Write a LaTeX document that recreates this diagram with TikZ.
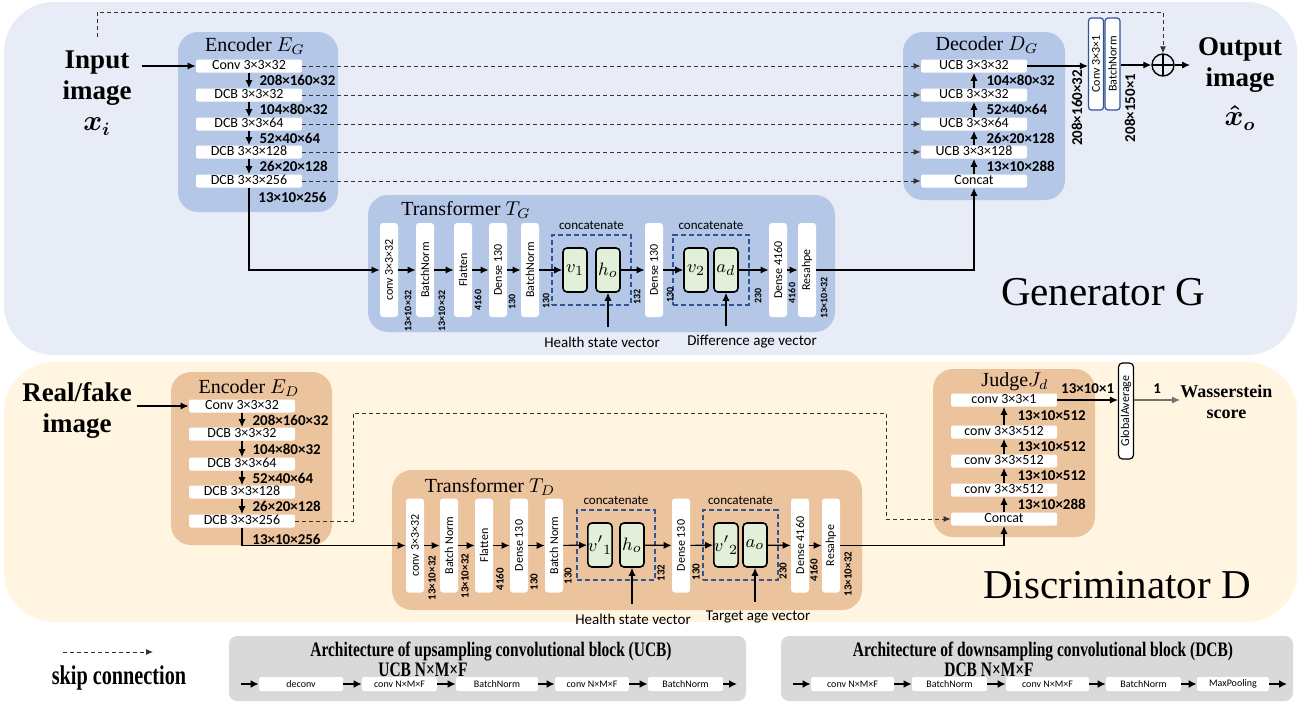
\documentclass[tikz,border=0pt]{standalone}
\usepackage{amsmath}
\usepackage{graphicx}
\usepackage{fontspec}
\setmainfont{Liberation Serif}
\newfontfamily\calfont{Carlito}
\newfontfamily\narrowfont[FakeStretch=0.75]{Liberation Serif}
\usetikzlibrary{arrows.meta,positioning,calc,fit,backgrounds}

\definecolor{genbg}{HTML}{E7ECF6}
\definecolor{disbg}{HTML}{FFF5E0}
\definecolor{genblock}{HTML}{B4C7E7}
\definecolor{disblock}{HTML}{EBC49E}
\definecolor{vecgreen}{HTML}{E2F0D9}
\definecolor{catblue}{HTML}{2F5597}
\definecolor{leggray}{HTML}{D9D9D9}

\newcommand\fsz[2]{\fontsize{#1}{#2}\selectfont}
\newcommand\uprot[1]{\rotatebox{90}{#1}}

\begin{document}
\begin{tikzpicture}[
    x=0.5pt, y=-0.5pt,                               % one unit = one pixel of the layout
    >={Latex[length=4pt,width=3.6pt]},
    %–––– STYLES ––––
    lyr/.style      = {fill=white, rounded corners=1pt, inner sep=0pt,
                       minimum width=53pt, minimum height=6.5pt,
                       text height=4.8pt, text depth=1.3pt, font=\calfont\fsz{7}{8}},
    vlyr/.style     = {fill=white, rounded corners=1.5pt, inner sep=0pt,
                       minimum width=9pt, minimum height=47pt, font=\calfont\fsz{6}{7}},
    outbox/.style   = {vlyr, draw=catblue, line width=0.6pt,
                       minimum width=7.5pt, minimum height=46pt},
    vecbox/.style   = {draw=black, line width=0.8pt, fill=vecgreen, rounded corners=2pt,
                       minimum width=12pt, minimum height=22pt, inner sep=0pt,
                       font=\fsz{9.5}{11}},
    catbox/.style   = {draw=catblue, dash pattern=on 2.5pt off 1.5pt,
                       line width=0.9pt, inner xsep=5pt, inner ysep=6pt},
    cattext/.style  = {font=\calfont\fsz{6.5}{7}, inner sep=2pt},
    group/.style    = {rounded corners=10pt},
    grouptitle/.style = {font=\fsz{10}{12}, inner sep=0pt},
    dimtext/.style  = {font=\calfont\bfseries\fsz{7.5}{9}, inner sep=0pt},
    vdim/.style     = {font=\calfont\bfseries\fsz{#1}{#1}, inner sep=0pt, rotate=90},
    vdim/.default   = 5,
    vecnote/.style  = {font=\calfont\fsz{7.5}{9}, inner sep=0pt},
    bigtext/.style  = {font=\bfseries\fsz{13.5}{15.5}, align=center, inner sep=0pt},
    addnode/.style  = {draw, circle, line width=0.7pt, minimum size=11pt, inner sep=0pt,
                       path picture={\draw[line width=0.7pt]
                         (path picture bounding box.north) -- (path picture bounding box.south)
                         (path picture bounding box.west) -- (path picture bounding box.east);}},
    arrow/.style    = {->, line width=0.6pt},
    skipline/.style = {-{Latex[length=3.5pt,width=3pt]}, dash pattern=on 2pt off 1.5pt,
                       line width=0.45pt, draw=black!80},
    lbox/.style     = {fill=white, rounded corners=1pt, inner sep=0pt, minimum height=7pt,
                       font=\calfont\fsz{5}{6}},
    larrow/.style   = {-{Latex[length=4pt,width=4pt]}, line width=0.8pt},
    legtitle/.style = {font=\narrowfont\bfseries\fsz{10.3}{12}, inner sep=0pt},
]
\useasboundingbox (0,0) rectangle (1306,703);

%–––– PANELS ––––
\fill[genbg, rounded corners=25pt] (4,2) rectangle (1297,355);
\fill[disbg, rounded corners=25pt] (4,362) rectangle (1297,622);

%–––– GENERATOR ––––
\fill[genblock, group] (178,32)  rectangle (338,212);    % encoder
\fill[genblock, group] (903,32)  rectangle (1065,200);   % decoder
\fill[genblock, group] (368,195) rectangle (835,332);    % transformer

\node[grouptitle] at (255,46)  {Encoder $E_G$};
\node[grouptitle] at (987,45)  {Decoder $D_G$};
\node[grouptitle] at (466,210) {Transformer $T_G$};

\node[bigtext] (inG)  at (97,93)   {Input\\image\\$\boldsymbol{x_i}$};
\node[bigtext] (outG) at (1240,84) {Output\\image\\[4pt]$\boldsymbol{\hat{x}_o}$};

\node[lyr] (eg1) at (249,66)  {Conv 3×3×32};
\node[lyr] (eg2) at (249,95)  {DCB 3×3×32};
\node[lyr] (eg3) at (249,124) {DCB 3×3×64};
\node[lyr] (eg4) at (249,152) {DCB 3×3×128};
\node[lyr] (eg5) at (249,181) {DCB 3×3×256};
\node[dimtext, anchor=west] at (258,197) {13×10×256};

\node[lyr] (dg1) at (974,66)  {UCB 3×3×32};
\node[lyr] (dg2) at (974,95)  {UCB 3×3×32};
\node[lyr] (dg3) at (974,124) {UCB 3×3×64};
\node[lyr] (dg4) at (974,152) {UCB 3×3×128};
\node[lyr] (dg5) at (974,181) {Concat};

\node[outbox] (cv) at (1096,64)   {\uprot{Conv 3×3×1}};
\node[outbox] (bn) at (1112.5,64) {\uprot{BatchNorm}};
\node[addnode] (op) at (1163,65) {};
\node[vdim=7.5] at (1077,108) {208×160×32};
\node[vdim=7.5] at (1130,108) {208×150×1};

% transformer T_G
\node[vlyr] (tg1) at (389,270) {\uprot{conv 3×3×32}};
\node[vlyr] (tg2) at (425,270) {\uprot{BatchNorm}};
\node[vlyr] (tg3) at (463,270) {\uprot{Flatten}};
\node[vlyr] (tg4) at (498,270) {\uprot{Dense 130}};
\node[vlyr] (tg5) at (530,270) {\uprot{BatchNorm}};
\node[vecbox] (v1) at (575,270) {$v_1$};
\node[vecbox] (ho) at (608,270) {$h_o$};
\node[vlyr] (tg6) at (654,270) {\uprot{Dense 130}};
\node[vecbox] (v2) at (696,270) {$v_2$};
\node[vecbox] (ad) at (726,270) {$a_d$};
\node[vlyr] (tg7) at (778,270) {\uprot{Dense 4160}};
\node[vlyr] (tg8) at (807,270) {\uprot{Resahpe}};

\node[catbox, fit=(v1)(ho), label={[cattext]above:concatenate}] (catG1) {};
\node[catbox, fit=(v2)(ad), label={[cattext]above:concatenate}] (catG2) {};

\foreach \x/\y/\t in {408/311/13×10×32, 442/311/13×10×32, 478/300/4160, 512/302/130,
                      546/301/130, 637/297/132, 670/295/130, 758/296/230, 792/293/4160,
                      824/298/13×10×32}
  \node[vdim=5] at (\x,\y) {\t};

\node[vecnote] (hsvG) at (602,342) {Health state vector};
\node[vecnote] (dav)  at (752,342) {Difference age vector};

\node[font=\fsz{20.5}{24}] at (1103,292) {Generator G};

%–––– DISCRIMINATOR ––––
\fill[disblock, group] (171,372) rectangle (332,545);    % encoder
\fill[disblock, group] (933,369) rectangle (1095,537);   % judge
\fill[disblock, group] (392,470) rectangle (862,610);    % transformer

\node[grouptitle] at (249,388)  {Encoder $E_D$};
\node[grouptitle] at (1015,382) {Judge$J_d$};
\node[grouptitle] at (490,487)  {Transformer $T_D$};

\node[bigtext] (inD) at (77,410) {Real/fake\\image};

\node[lyr] (ed1) at (242,406) {Conv 3×3×32};
\node[lyr] (ed2) at (242,434) {DCB 3×3×32};
\node[lyr] (ed3) at (242,464) {DCB 3×3×64};
\node[lyr] (ed4) at (242,492) {DCB 3×3×128};
\node[lyr] (ed5) at (242,521) {DCB 3×3×256};
\node[dimtext, anchor=west] at (252,539) {13×10×256};

\node[lyr] (jd1) at (1004,400) {conv 3×3×1};
\node[lyr] (jd2) at (1004,432) {conv 3×3×512};
\node[lyr] (jd3) at (1004,461) {conv 3×3×512};
\node[lyr] (jd4) at (1004,490) {conv 3×3×512};
\node[lyr] (jd5) at (1004,519) {Concat};

\node[vlyr, draw=black, line width=0.6pt, minimum width=7.5pt, minimum height=48pt,
      rounded corners=2pt] (ga) at (1126,411) {\uprot{GlobalAverage}};
\node[font=\bfseries\fsz{9}{10.5}, align=center, anchor=west, inner sep=0pt]
      (ws) at (1180,402) {Wasserstein\\score};

% transformer T_D
\node[vlyr] (td1) at (415,545.5) {\uprot{conv 3×3×32}};
\node[vlyr] (td2) at (449,545.5) {\uprot{Batch Norm}};
\node[vlyr] (td3) at (484,545.5) {\uprot{Flatten}};
\node[vlyr] (td4) at (519,545.5) {\uprot{Dense 130}};
\node[vlyr] (td5) at (554,545.5) {\uprot{Batch Norm}};
\node[vecbox] (w1)  at (600,545) {${v'}_1$};
\node[vecbox] (ho2) at (632,545) {$h_o$};
\node[vlyr] (td6) at (681,545.5) {\uprot{Dense 130}};
\node[vecbox] (w2)  at (726,545) {${v'}_2$};
\node[vecbox] (ao)  at (755,545) {$a_o$};
\node[vlyr] (td7) at (800,545.5) {\uprot{Dense 4160}};
\node[vlyr] (td8) at (831,545.5) {\uprot{Resahpe}};

\node[catbox, fit=(w1)(ho2), label={[cattext]above:concatenate}] (catD1) {};
\node[catbox, fit=(w2)(ao),  label={[cattext]above:concatenate}] (catD2) {};

\foreach \x/\y/\t in {432/578/13×10×32, 465/576/13×10×32, 500/579/4160, 534/582/130,
                      568/576/130, 661/573/132, 696/572/130, 783/571/230, 814/570/4160,
                      848/574/13×10×32}
  \node[vdim=5.5] at (\x,\y) {\t};

\node[vecnote] (hsvD) at (633,619) {Health state vector};
\node[vecnote] (tav)  at (758,617) {Target age vector};

\node[font=\fsz{20.5}{24}] at (1117,585) {Discriminator D};

%–––– ARROWS ––––
\coordinate (inA) at (142,66);
\draw[arrow] (inA) -- (eg1);
\foreach \a/\b/\d in {eg1/eg2/208×160×32, eg2/eg3/104×80×32, eg3/eg4/52×40×64, eg4/eg5/26×20×128}
  \draw[arrow] (\a) -- (\b) node[dimtext, midway, right=5pt] {\d};
\foreach \a/\b/\d in {dg5/dg4/13×10×288, dg4/dg3/26×20×128, dg3/dg2/52×40×64, dg2/dg1/104×80×32}
  \draw[arrow] (\a) -- (\b) node[dimtext, midway, right=6pt] {\d};
\foreach \i in {1,...,5}
  \draw[skipline] (eg\i.east) -- (eg\i.east -| dg\i.west);

\draw[arrow] (eg5.south) |- (tg1.west);
\foreach \a/\b in {tg1/tg2, tg2/tg3, tg3/tg4, tg4/tg5, tg5/v1, ho/tg6, tg6/v2, ad/tg7, tg7/tg8}
  \draw[arrow] (\a) -- (\b);
\draw[arrow] (tg8.east) -| (dg5.south);
\draw[arrow, shorten <=4.5pt] (ho.south |- hsvG.north) -- (ho.south);
\draw[arrow, shorten <=4.5pt] (ad.south |- dav.north) -- (ad.south);

\draw[arrow] (dg1.east) -- (dg1.east -| cv.west);
\draw[arrow] (bn.east |- op) -- (op.west);
\coordinate (skA) at (97,37);
\coordinate (skB) at (97,12);
\draw[skipline] (skA) -- (skB) -| (op.north);
\coordinate (outEnd) at (1190,65);
\draw[arrow] (op.east) -- (outEnd);

\coordinate (inB) at (137,406);
\draw[arrow] (inB) -- (ed1);
\foreach \a/\b/\d in {ed1/ed2/208×160×32, ed2/ed3/104×80×32, ed3/ed4/52×40×64, ed4/ed5/26×20×128}
  \draw[arrow] (\a) -- (\b) node[dimtext, midway, right=5pt] {\d};
\foreach \a/\b/\d in {jd5/jd4/13×10×288, jd4/jd3/13×10×512, jd3/jd2/13×10×512, jd2/jd1/13×10×512}
  \draw[arrow] (\a) -- (\b) node[dimtext, midway, right=6.5pt] {\d};

\coordinate (dk1) at (353,413);
\coordinate (dk2) at (886,413);
\draw[skipline] (ed5.east) -| (dk1) -- (dk2) |- (jd5.west);

\draw[arrow] (ed5.south) |- (td1.west);
\foreach \a/\b in {td1/td2, td2/td3, td3/td4, td4/td5, td5/w1, ho2/td6, td6/w2, ao/td7, td7/td8}
  \draw[arrow] (\a) -- (\b);
\draw[arrow] (td8.east) -| (jd5.south);
\draw[arrow, shorten <=4.5pt] (ho2.south |- hsvD.north) -- (ho2.south);
\draw[arrow, shorten <=4.5pt] (ao.south |- tav.north) -- (ao.south);

\draw[arrow] (jd1.east) -- (jd1.east -| ga.west) node[dimtext, midway, above=3pt] {13×10×1};
\draw[arrow, draw=black!55] (jd1 -| ga.east) -- (jd1 -| ws.west) node[dimtext, midway, above=3pt, text=black] {1};

%–––– LEGEND ––––
\coordinate (skL1) at (63,652);
\coordinate (skL2) at (153,652);
\draw[skipline] (skL1) -- (skL2);
\node[legtitle, font=\narrowfont\bfseries\fsz{13.5}{15}] at (119,678) {skip connection};

\fill[leggray, rounded corners=4pt] (229,636) rectangle (746,701);
\node[legtitle] at (491,652) {Architecture of upsampling convolutional block (UCB)};
\node[legtitle] at (423,670) {UCB N×M×F};
\foreach \n/\x/\w/\t in {u1/301/42/deconv, u2/399.5/37.5/conv N×M×F, u3/497/41/BatchNorm,
                         u4/592/37/conv N×M×F, u5/685.5/37.5/BatchNorm}
  \node[lbox, minimum width=\w pt] (\n) at (\x,684) {\t};
\coordinate (uin)  at (241,684);
\coordinate (uout) at (737,684);
\draw[larrow] (uin) -- (u1);
\foreach \a/\b in {u1/u2, u2/u3, u3/u4, u4/u5}
  \draw[larrow] (\a) -- (\b);
\draw[larrow] (u5) -- (uout);

\fill[leggray, rounded corners=4pt] (781,636) rectangle (1293,701);
\node[legtitle] at (1043,652) {Architecture of downsampling convolutional block (DCB)};
\node[legtitle] at (989,670) {DCB N×M×F};
\foreach \n/\x/\w/\t in {c1/852.5/41.5/conv N×M×F, c2/949.5/37.5/BatchNorm, c3/1047.5/41.5/conv N×M×F,
                         c4/1143.5/37.5/BatchNorm, c5/1233/36/MaxPooling}
  \node[lbox, minimum width=\w pt] (\n) at (\x,684) {\t};
\coordinate (cin)  at (793,684);
\coordinate (cout) at (1287,684);
\draw[larrow] (cin) -- (c1);
\foreach \a/\b in {c1/c2, c2/c3, c3/c4, c4/c5}
  \draw[larrow] (\a) -- (\b);
\draw[larrow] (c5) -- (cout);
\end{tikzpicture}
\end{document}
